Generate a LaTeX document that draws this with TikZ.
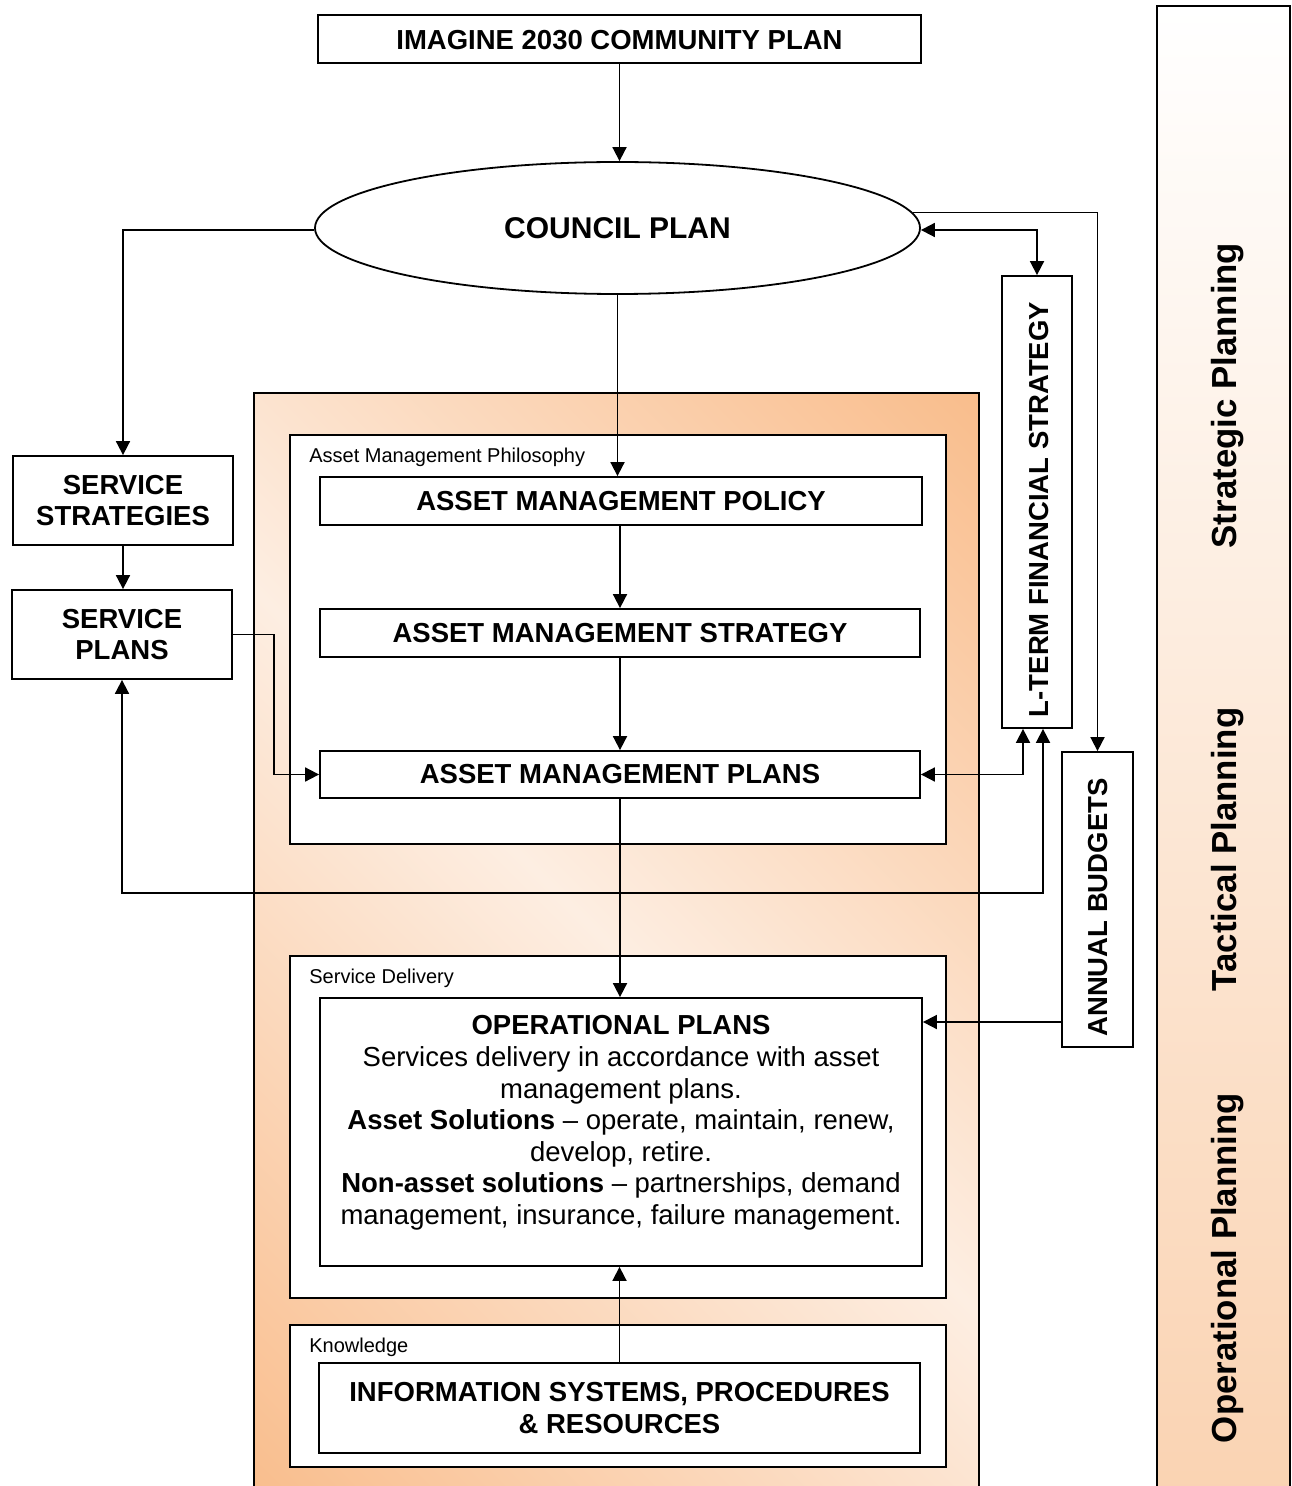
\documentclass[tikz,border=0pt]{standalone}
\usepackage{fontspec}
\setmainfont{Liberation Sans}
\usetikzlibrary{arrows.meta,shapes.geometric}
\definecolor{pOrange}{RGB}{249,189,140}
\definecolor{pLight}{RGB}{253,238,226}
\definecolor{barBot}{RGB}{250,211,178}
\pgfdeclarehorizontalshading{panelshade}{100bp}{color(0bp)=(pOrange); color(14.6bp)=(pOrange); color(50bp)=(pLight); color(85.4bp)=(pOrange); color(100bp)=(pOrange)}
\newcommand{\bigtxt}{\fontsize{13.75pt}{15.8pt}\selectfont}
\newcommand{\smalltxt}{\fontsize{10pt}{12pt}\selectfont}
\newcommand{\bartxt}{\fontsize{17.4pt}{20pt}\selectfont}
\begin{document}
\begin{tikzpicture}[x=0.5pt,y=-0.5pt,
  box/.style={draw=black, line width=0.9pt, fill=white, inner sep=0pt, align=center, font=\bigtxt\bfseries},
  grp/.style={draw=black, line width=0.9pt, fill=white, inner sep=0pt},
  lbl/.style={font=\smalltxt, anchor=west, inner sep=0pt},
  vtxt/.style={rotate=90, font=\bigtxt\bfseries, inner sep=0pt},
  bartext/.style={rotate=90, font=\bartxt\bfseries, inner sep=0pt},
  arr/.style={line width=0.9pt, -{Triangle[length=7pt,width=7pt]}},
  arrb/.style={line width=0.9pt, {Triangle[length=7pt,width=7pt]}-{Triangle[length=7pt,width=7pt]}},
]
\useasboundingbox (0,0) rectangle (1291,1486);

% right planning bar
\path[draw=black, line width=1pt, top color=white, bottom color=barBot] (1157,6) rectangle (1290,1500);
\node[bartext] (strP) at (1228,395.5) {Strategic Planning};
\node[bartext] (tacP) at (1228,849.5) {Tactical Planning};
\node[bartext] (opP) at (1228,1268) {Operational Planning};

% gradient panel
\path[shade, shading=panelshade, shading angle=45, draw=black, line width=1.3pt] (254,393) rectangle (979,1510);

% nodes
\node[box, minimum width=301.5pt, minimum height=24pt, text depth=0pt] (top) at (619.5,39) {\raisebox{-1pt}{IMAGINE 2030 COMMUNITY PLAN}};
\node[draw=black, ellipse, line width=0.9pt, fill=white, inner sep=0pt, minimum width=302.5pt, minimum height=66pt, font=\fontsize{15pt}{18pt}\selectfont\bfseries] (council) at (617.5,228) {\raisebox{-1pt}{COUNCIL PLAN}};

\node[grp, minimum width=328pt, minimum height=204.5pt] (phil) at (618,639.5) {};
\node[lbl] (philL) at (309,457) {Asset Management Philosophy};
\node[box, minimum width=301pt, minimum height=24pt] (policy) at (621,501) {\raisebox{-1pt}{ASSET MANAGEMENT POLICY}};
\node[box, minimum width=300pt, minimum height=24pt] (strategy) at (620,633) {\raisebox{-1pt}{ASSET MANAGEMENT STRATEGY}};
\node[box, minimum width=300pt, minimum height=23.5pt] (plans) at (620,774.5) {\raisebox{-1pt}{ASSET MANAGEMENT PLANS}};

\node[grp, minimum width=328pt, minimum height=171pt] (deliv) at (618,1127) {};
\node[lbl] (delivL) at (309,978) {Service Delivery};
\node[box, minimum width=301pt, minimum height=134pt] (oper) at (621,1132) {};
\node[align=center, font=\bigtxt, inner sep=0pt] (operT) at (621,1123) {\textbf{OPERATIONAL PLANS}\\ Services delivery in accordance with asset\\ management plans.\\ \textbf{Asset Solutions} -- operate, maintain, renew,\\ develop, retire.\\ \textbf{Non-asset solutions} -- partnerships, demand\\ management, insurance, failure management.};

\node[grp, minimum width=328pt, minimum height=71pt] (know) at (618,1396) {};
\node[lbl] (knowL) at (309,1347) {Knowledge};
\node[box, minimum width=300.5pt, minimum height=45pt] (info) at (619.5,1408) {INFORMATION SYSTEMS, PROCEDURES\\ \& RESOURCES};

\node[box, minimum width=110pt, minimum height=44.5pt] (sstrat) at (123,500.5) {SERVICE\\ STRATEGIES};
\node[box, minimum width=110pt, minimum height=44.5pt] (splans) at (122,634.5) {SERVICE\\ PLANS};

\node[box, minimum width=35pt, minimum height=226pt] (lterm) at (1037,502) {};
\node[vtxt] (ltermT) at (1039,509.5) {L-TERM FINANCIAL STRATEGY};
\node[box, minimum width=35.5pt, minimum height=147.5pt] (budg) at (1097.5,899.5) {};
\node[vtxt] (budgT) at (1098,907.5) {ANNUAL BUDGETS};

\coordinate (busy) at (0,893);
\coordinate (budy) at (0,1022);

% connectors
\draw[arr] (top.south) -- (top.south |- council.north);
\draw[arr] ([yshift=-1pt]council.west) -| (sstrat.north);
\draw[arr] (council.south) -- (council.south |- policy.north);
\draw[arr] (strategy.north |- policy.south) -- (strategy.north);
\draw[arr] (strategy.south) -- (plans.north);
\draw[arr] (sstrat.south) -- (sstrat.south |- splans.north);
\draw[arr] (splans.east) -- ++(41,0) |- (plans.west);
\draw[arr] (plans.south) -- (plans.south |- oper.north);
\draw[arr] (info.north) -- (info.north |- oper.south);
\draw[arrb] ([yshift=-1pt]council.east) -| (lterm.north);
\draw[arr] (council.3) -| (budg.north);
\draw[arrb] (plans.east) -| ([xshift=-7pt]lterm.south);
\draw[arrb] (splans.south) -- (splans.south |- busy) -| ([xshift=3pt]lterm.south);
\draw[arr] (budg.west |- budy) -- (oper.east |- budy);
\end{tikzpicture}
\end{document}
